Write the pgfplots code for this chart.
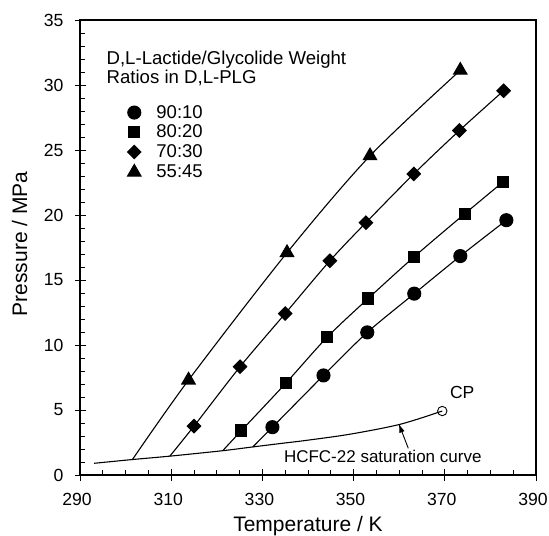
\documentclass[border=0pt]{standalone}
\usepackage{fontspec}
\setmainfont{Liberation Sans}
\usepackage{pgfplots}
\pgfplotsset{compat=1.18}
\usetikzlibrary{arrows.meta}

\begin{document}
\begin{tikzpicture}
\begin{axis}[
  scale only axis,
  width=456bp, height=455bp,
  xmin=290, xmax=390, ymin=0, ymax=35,
  xtick={290,310,...,390}, ytick={0,5,...,35},
  minor x tick num=3, minor y tick num=4,
  tick pos=left,
  tick align=inside,
  major tick length=6bp, minor tick length=5bp,
  tick style={line width=0.9bp, black},
  axis line style={line width=1.1bp},
  extra x ticks={290,310,...,390}, extra x tick labels={},
  extra x tick style={tick align=outside, major tick length=6bp},
  extra y ticks={0,5,...,35}, extra y tick labels={},
  extra y tick style={tick align=outside, major tick length=5bp},
  /pgf/number format/assume math mode=true,
  ticklabel style={font=\fontsize{17.6bp}{20bp}\selectfont},
  xticklabel style={yshift=-15bp, xshift=-3bp},
  yticklabel style={xshift=-13bp},
  label style={font=\fontsize{21bp}{24bp}\selectfont},
  xlabel={Temperature / K},
  ylabel={Pressure / MPa},
  xlabel style={at={(axis description cs:0.5,-0.1231)}, anchor=base},
  ylabel style={at={(axis description cs:-0.1322,0.508)}, anchor=center},
  clip=false,
  legend style={draw=none, fill=none, inner sep=0pt, row sep=5.3bp, column sep=15.5bp,
    nodes={inner sep=0pt},
    font=\fontsize{18.5bp}{21bp}\selectfont,
    at={(axis cs:300.4,28.45)}, anchor=north west},
  legend cell align=left,
  every axis plot/.append style={line width=1.1bp, black},
]
% HCFC-22 saturation curve
\addplot[smooth, tension=0.5, forget plot] coordinates {
  (293.1,0.90) (301.5,1.19) (309.7,1.45) (321.3,1.87) (327.9,2.16)
  (333.9,2.42) (340.0,2.68) (349.4,3.15) (360.2,3.90) (369.45,4.92)
};
\addplot[only marks, mark=o, mark size=4.7bp, mark options={fill=white, line width=0.9bp}, forget plot]
  coordinates {(369.45,4.92)};

% 90:10
\addplot[smooth, tension=0.5, forget plot] coordinates {
  (327.9,2.16) (332.2,3.68) (343.4,7.66) (353.0,10.97) (363.3,13.95) (373.4,16.84) (383.5,19.60)
};
\addplot[only marks, mark=*, mark size=6.5bp] coordinates {
  (332.2,3.68) (343.4,7.66) (353.0,10.97) (363.3,13.95) (373.4,16.84) (383.5,19.60)
};
\addlegendentry{90:10}

% 80:20
\addplot[smooth, tension=0.5, forget plot] coordinates {
  (321.3,1.87) (325.4,3.42) (335.1,7.05) (344.2,10.60) (353.2,13.58) (363.3,16.79) (374.4,20.10) (382.8,22.55)
};
\addplot[only marks, mark=square*, mark size=5.5bp] coordinates {
  (325.4,3.42) (335.1,7.05) (344.2,10.60) (353.2,13.58) (363.3,16.79) (374.4,20.10) (382.8,22.55)
};
\addlegendentry{80:20}

% 70:30
\addplot[smooth, tension=0.5, forget plot] coordinates {
  (309.7,1.45) (315.0,3.76) (325.1,8.33) (335.0,12.42) (344.8,16.48) (352.7,19.41) (363.2,23.16) (373.2,26.50) (382.9,29.56)
};
\addplot[only marks, mark=square*, mark options={rotate=45}, mark size=4.7bp] coordinates {
  (315.0,3.76) (325.1,8.33) (335.0,12.42) (344.8,16.48) (352.7,19.41) (363.2,23.16) (373.2,26.50) (382.9,29.56)
};
\addlegendentry{70:30}

% 55:45
\addplot[smooth, tension=0.5, forget plot] coordinates {
  (301.5,1.19) (313.8,7.30) (335.4,17.10) (353.6,24.55) (373.4,31.13)
};
\addplot[only marks, mark=triangle*, mark size=7.7bp] coordinates {
  (313.8,7.30) (335.4,17.10) (353.6,24.55) (373.4,31.13)
};
\addlegendentry{55:45}

\draw[-{Latex[length=9bp,width=5.5bp]}, line width=0.9bp] (axis cs:362.0,2.05) -- (axis cs:359.9,3.95);
\node[anchor=base west, inner sep=0pt, font=\fontsize{17bp}{20bp}\selectfont]
  at (axis cs:334.7,1.0) {HCFC-22 saturation curve};
\node[anchor=base west, inner sep=0pt, font=\fontsize{17.5bp}{20bp}\selectfont]
  at (axis cs:371.1,5.9) {CP};
\node[anchor=base west, inner sep=0pt, font=\fontsize{18.6bp}{20.7bp}\selectfont]
  at (axis cs:295.8,31.6) {D,L-Lactide/Glycolide Weight};
\node[anchor=base west, inner sep=0pt, font=\fontsize{18.6bp}{20.7bp}\selectfont]
  at (axis cs:295.8,30.08) {Ratios in D,L-PLG};
\end{axis}
\pgfresetboundingbox
\path[use as bounding box] (current axis.south west) ++(-80bp,-61bp) rectangle ++(549bp,536bp);
\end{tikzpicture}
\end{document}
